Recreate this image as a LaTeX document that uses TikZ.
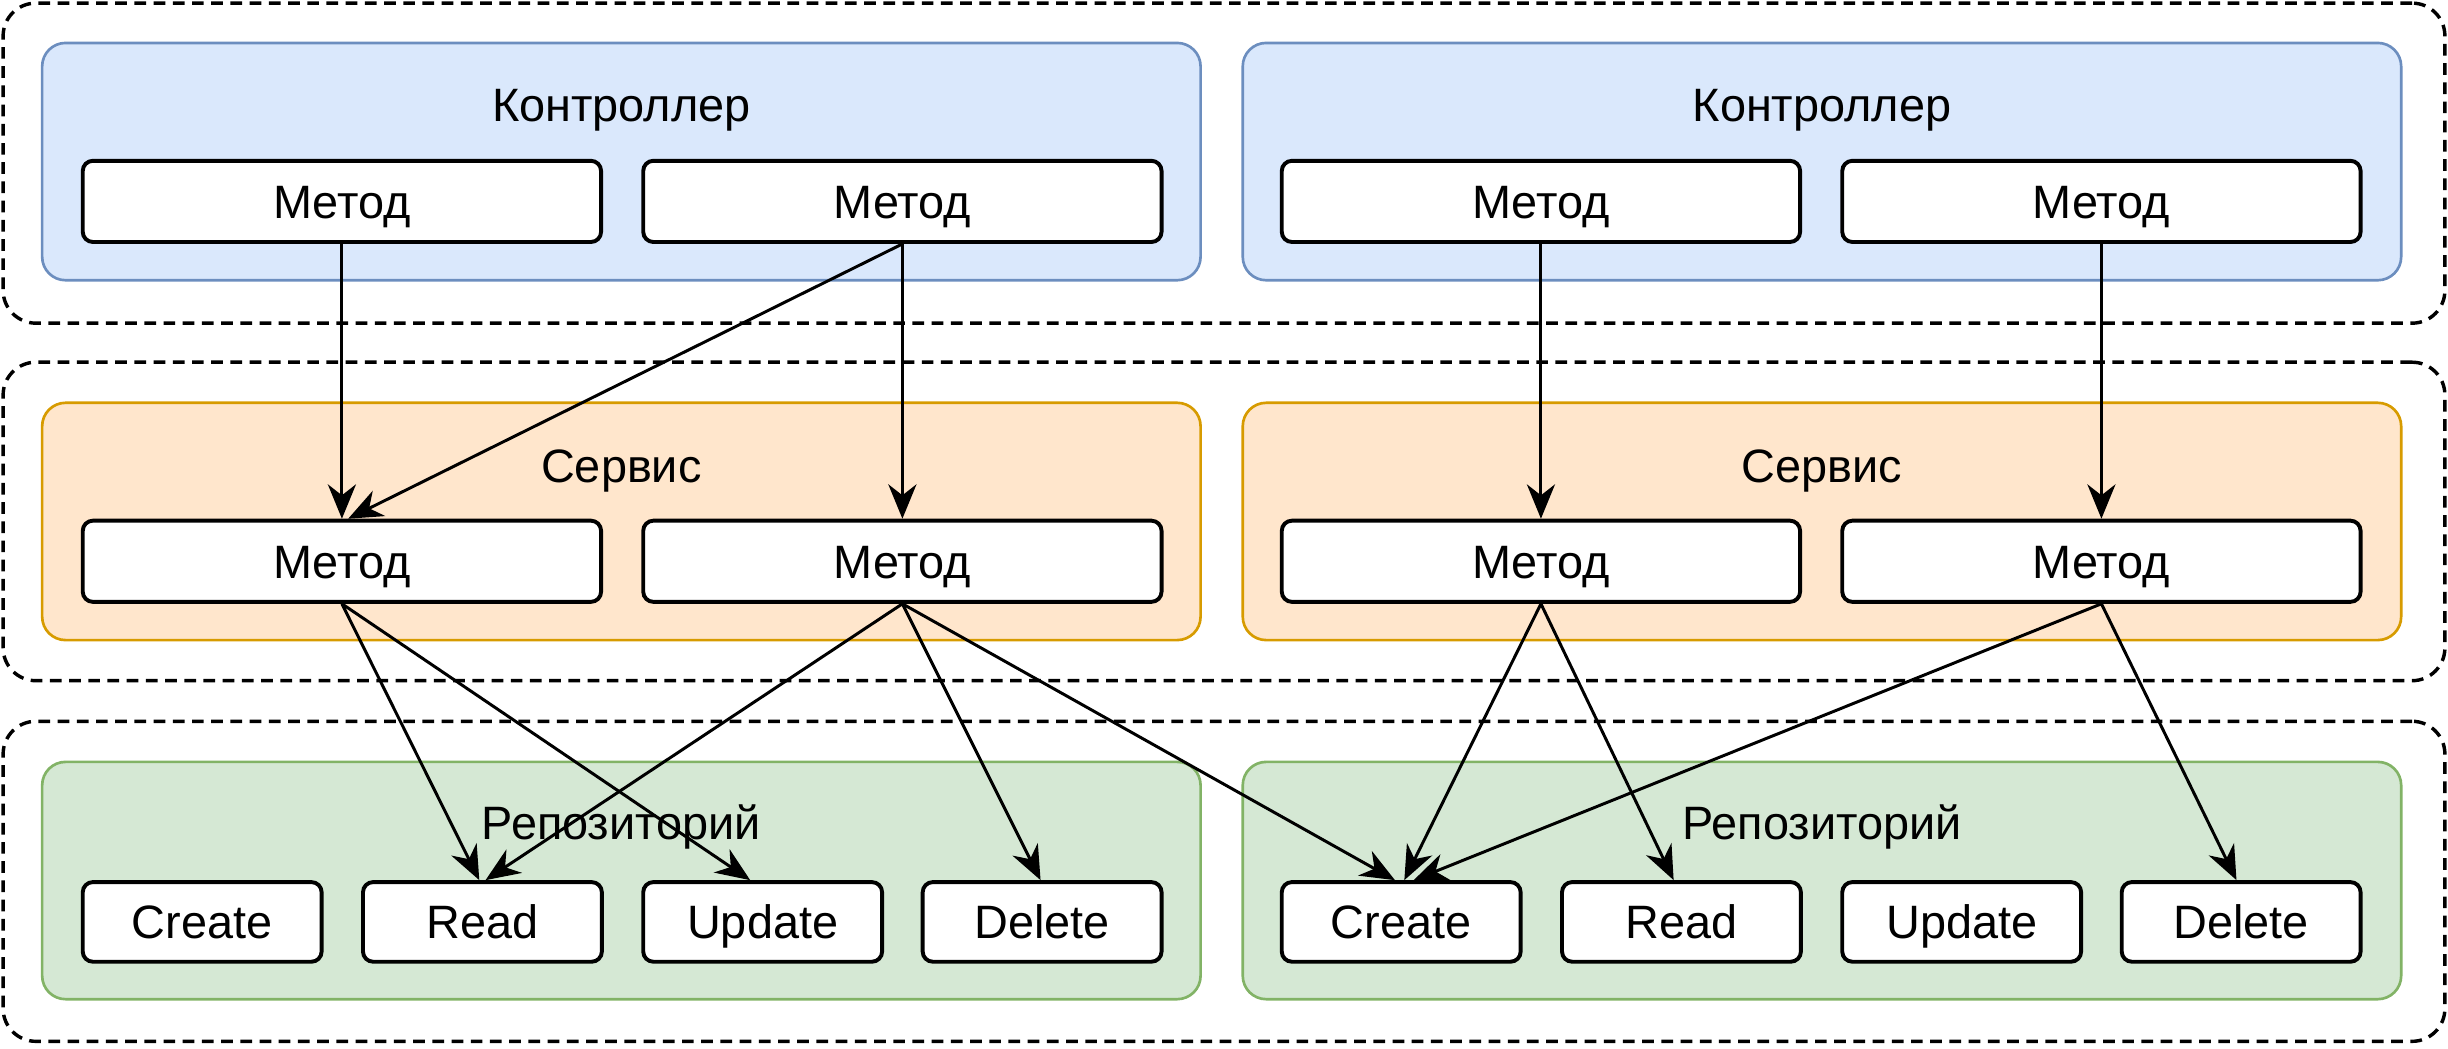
\documentclass[tikz,border=0pt]{standalone}
\usepackage{fontspec}
\setmainfont{Liberation Sans}
\usetikzlibrary{arrows.meta}
\definecolor{bfill}{HTML}{DAE8FC}\definecolor{bline}{HTML}{6C8EBF}
\definecolor{ofill}{HTML}{FFE6CC}\definecolor{oline}{HTML}{D79B00}
\definecolor{gfill}{HTML}{D5E8D4}\definecolor{gline}{HTML}{82B366}
\begin{document}
\begin{tikzpicture}[x=1pt,y=-1pt,
  lane/.style={draw=black, line width=2.2pt, dash pattern=on 7.5pt off 4.8pt, rounded corners=21pt, minimum width=1564pt, inner sep=0pt},
  group/.style={line width=1.7pt, rounded corners=15pt, minimum width=742pt, minimum height=152pt, inner sep=0pt},
  blue/.style={group, draw=bline, fill=bfill},
  orange/.style={group, draw=oline, fill=ofill},
  green/.style={group, draw=gline, fill=gfill},
  txt/.style={font=\fontsize{30}{36}\selectfont, text height=21.5pt, text depth=0pt},
  title/.style={txt, inner sep=0pt},
  meth/.style={txt, draw=black, fill=white, line width=2.5pt, rounded corners=6.5pt, minimum width=332pt, minimum height=52pt, inner sep=0pt},
  crud/.style={meth, minimum width=153pt, minimum height=51pt},
  arr/.style={line width=1.9pt, -{Stealth[length=22pt, width=18pt, inset=7pt]}}
]
\useasboundingbox (0,0) rectangle (1568,671.3);
% lanes
\node[lane, minimum height=205pt] (lane1) at (784,104.5) {};
\node[lane, minimum height=204pt] (lane2) at (784,334) {};
\node[lane, minimum height=205pt] (lane3) at (784,564.5) {};
% groups
\node[blue] (ctrlL) at (398,103.5) {};
\node[blue] (ctrlR) at (1167,103.5) {};
\node[orange] (svcL) at (398,334) {};
\node[orange] (svcR) at (1167,334) {};
\node[green] (repL) at (398,564) {};
\node[green] (repR) at (1167,564) {};
% titles
\node[title] (tc1) at (398,67) {Контроллер};
\node[title] (tc2) at (1167,67) {Контроллер};
\node[title] (ts1) at (398,298) {Сервис};
\node[title] (ts2) at (1167,298) {Сервис};
\node[title] (tr1) at (398,527) {Репозиторий};
\node[title] (tr2) at (1167,527) {Репозиторий};
% methods
\node[meth] (c1) at (219,129) {Метод};
\node[meth] (c2) at (578,129) {Метод};
\node[meth] (c3) at (987,129) {Метод};
\node[meth] (c4) at (1346,129) {Метод};
\node[meth] (s1) at (219,359.5) {Метод};
\node[meth] (s2) at (578,359.5) {Метод};
\node[meth] (s3) at (987,359.5) {Метод};
\node[meth] (s4) at (1346,359.5) {Метод};
% crud
\node[crud] (cr1) at (129.5,590.5) {Create};
\node[crud] (rd1) at (309,590.5) {Read};
\node[crud] (up1) at (488.5,590.5) {Update};
\node[crud] (dl1) at (667.5,590.5) {Delete};
\node[crud] (cr2) at (897.5,590.5) {Create};
\node[crud] (rd2) at (1077,590.5) {Read};
\node[crud] (up2) at (1256.5,590.5) {Update};
\node[crud] (dl2) at (1435.5,590.5) {Delete};
% arrows controller -> service
\draw[arr] (c1.south) -- (s1.north);
\draw[arr] (c2.south) -- ([xshift=4pt]s1.north);
\draw[arr] (c2.south) -- (s2.north);
\draw[arr] (c3.south) -- (s3.north);
\draw[arr] (c4.south) -- (s4.north);
% arrows service -> repository
\draw[arr] (s1.south) -- ([xshift=-2pt]rd1.north);
\draw[arr] (s1.south) -- ([xshift=-8pt]up1.north);
\draw[arr] (s2.south) -- ([xshift=2pt]rd1.north);
\draw[arr] (s2.south) -- ([xshift=-1pt]dl1.north);
\draw[arr] (s2.south) -- ([xshift=-4pt]cr2.north);
\draw[arr] (s3.south) -- ([xshift=2pt]cr2.north);
\draw[arr] (s3.south) -- ([xshift=-5pt]rd2.north);
\draw[arr] (s4.south) -- ([xshift=8pt]cr2.north);
\draw[arr] (s4.south) -- ([xshift=-3pt]dl2.north);
\end{tikzpicture}
\end{document}
